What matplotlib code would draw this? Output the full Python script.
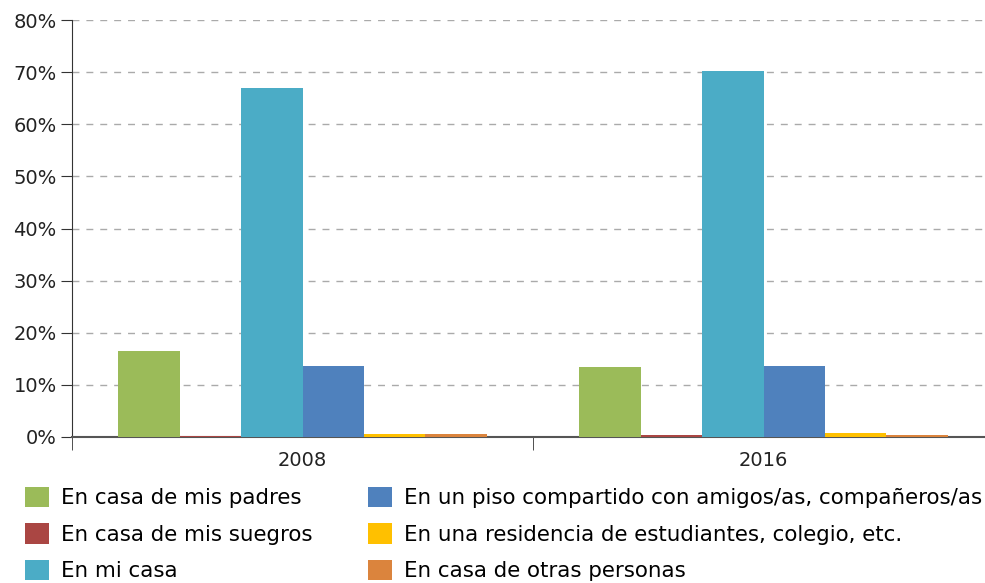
import numpy as np
import matplotlib.pyplot as plt
from matplotlib.ticker import FixedLocator

plt.rcParams['font.family'] = ['DejaVu Sans']

years = ["2008", "2016"]
series = [
    "En casa de mis padres",
    "En casa de mis suegros",
    "En mi casa",
    "En un piso compartido con amigos/as, compañeros/as",
    "En una residencia de estudiantes, colegio, etc.",
    "En casa de otras personas",
]
values = [
    [16.5, 13.4],
    [0.2, 0.3],
    [67.0, 70.3],
    [13.6, 13.6],
    [0.5, 0.7],
    [0.5, 0.4],
]
colors = ["#9BBB59", "#AA4643", "#4BACC6", "#4F81BD", "#FFC000", "#DB843D"]

fig = plt.figure(figsize=(9.85, 5.83), dpi=100)
ax = fig.add_axes([72 / 985, 146 / 583, 922 / 985, 417 / 583])

x = np.arange(len(years))
n = len(series)
width = 0.8 / n
for i, (name, vals, c) in enumerate(zip(series, values, colors)):
    ax.bar(x - 0.4 + width * (i + 0.5), vals, width, color=c, label=name, zorder=3)

ax.set_xlim(-0.5, 1.5)
ax.set_ylim(0, 80)
ax.set_yticks(range(0, 81, 10))
ax.set_yticklabels([f"{v}%" for v in range(0, 81, 10)], fontsize=14, color="#222222")
ax.set_xticks(x)
ax.set_xticklabels(years, fontsize=14, color="#222222")
ax.xaxis.set_minor_locator(FixedLocator([-0.5, 0.5, 1.5]))
ax.tick_params(axis='x', which='major', length=0, pad=10)
ax.tick_params(axis='x', which='minor', length=9, color="#333333")
ax.tick_params(axis='y', length=8, color="#333333", pad=3)

ax.grid(axis='y', linestyle=(0, (5, 5)), color="#aaaaaa", linewidth=1, zorder=0)
for s in ["top", "right"]:
    ax.spines[s].set_visible(False)
ax.spines["left"].set_color("#333333")
ax.spines["bottom"].set_color("#555555")
ax.spines["bottom"].set_linewidth(1.5)

fig.legend(loc="upper left", bbox_to_anchor=(0.017, 0.18), ncol=2, frameon=False,
           fontsize=15.4, handlelength=1.1, handleheight=1.1, handletextpad=0.57,
           columnspacing=2.6, labelspacing=0.7, borderaxespad=0)

plt.savefig("out.png", dpi=100)
